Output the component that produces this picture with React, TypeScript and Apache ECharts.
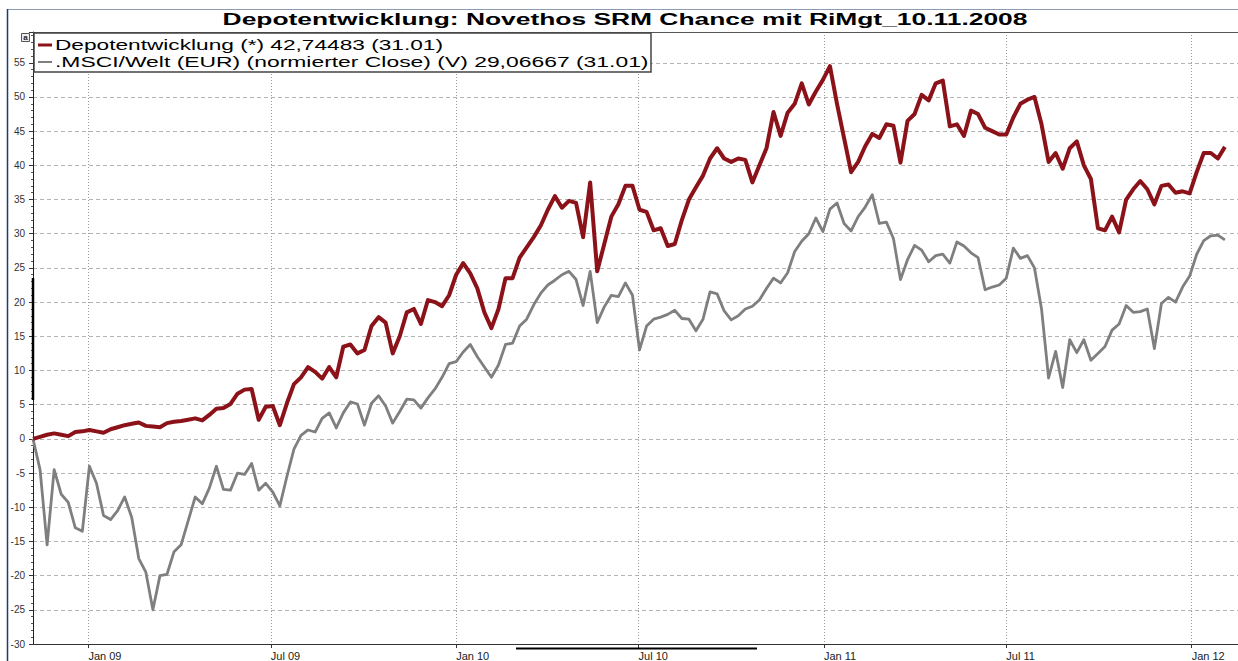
import React, { useEffect, useRef } from 'react';
import * as echarts from 'echarts';

const TITLE = 'Depotentwicklung: Novethos SRM Chance mit RiMgt_10.11.2008';
const DEPOT_NAME = 'Depotentwicklung (*) 42,74483 (31.01)';
const MSCI_NAME = '.MSCI/Welt (EUR) (normierter Close) (V) 29,06667 (31.01)';

// weekly observations starting 07.11.2008
const START_Y = 2008;
const START_M = 10;
const START_D = 7;
const STEP_DAYS = 7;

const depotValues = [
  0.0, 0.3, 0.6, 0.8, 0.6, 0.4, 1.0, 1.1, 1.3, 1.1,
  0.9, 1.4, 1.7, 2.0, 2.2, 2.4, 1.9, 1.8, 1.7, 2.3,
  2.5, 2.6, 2.8, 3.0, 2.7, 3.5, 4.4, 4.5, 5.1, 6.6,
  7.2, 7.3, 2.8, 4.7, 4.8, 2.0, 5.2, 8.0, 9.0, 10.5,
  9.8, 8.8, 10.5, 9.0, 13.5, 13.8, 12.5, 13.0, 16.5, 17.8,
  17.0, 12.5, 15.0, 18.5, 19.0, 16.8, 20.3, 20.0, 19.4, 21.0,
  24.0, 25.7, 24.2, 22.0, 18.5, 16.2, 19.0, 23.5, 23.5, 26.5,
  28.0, 29.5, 31.2, 33.5, 35.5, 33.8, 34.8, 34.5, 29.5, 37.5,
  24.5, 28.5, 32.5, 34.3, 37.0, 37.0, 33.5, 33.2, 30.5, 30.8,
  28.2, 28.5, 32.0, 35.0, 36.8, 38.5, 41.0, 42.5, 41.0, 40.5,
  41.0, 40.8, 37.5, 40.0, 42.5, 47.8, 44.3, 47.7, 49.0, 52.0,
  48.9, 50.8, 52.5, 54.5, 49.0, 44.0, 39.0, 40.5, 42.8, 44.6,
  44.0, 46.0, 45.8, 40.4, 46.5, 47.5, 50.3, 49.5, 52.0, 52.4,
  45.7, 46.0, 44.3, 48.0, 47.5, 45.5, 45.0, 44.5, 44.5, 47.0,
  49.0, 49.6, 50.0, 46.0, 40.5, 41.8, 39.5, 42.5, 43.5, 40.0,
  38.0, 30.8, 30.5, 32.5, 30.2, 35.0, 36.5, 37.7, 36.5, 34.3,
  37.0, 37.2, 36.0, 36.2, 35.9, 39.0, 41.8, 41.8, 41.0, 42.7,
];

const msciValues = [
  0.0, -4.5, -15.5, -4.5, -8.1, -9.3, -13.0, -13.5, -4.0, -6.5,
  -11.2, -11.8, -10.5, -8.5, -11.5, -17.5, -19.5, -25.0, -20.0, -19.8,
  -16.5, -15.5, -12.0, -8.5, -9.5, -7.2, -4.0, -7.4, -7.5, -5.0,
  -5.2, -3.6, -7.5, -6.5, -7.8, -9.8, -5.5, -1.5, 0.5, 1.3,
  1.0, 3.0, 3.8, 1.6, 3.8, 5.4, 5.1, 2.0, 5.2, 6.3,
  4.8, 2.3, 4.0, 5.8, 5.7, 4.5, 6.0, 7.3, 9.0, 11.0,
  11.3, 12.7, 13.8, 12.0, 10.5, 9.0, 10.8, 13.8, 14.0, 16.5,
  17.5, 19.6, 21.3, 22.5, 23.2, 24.0, 24.5, 23.3, 19.5, 24.5,
  17.0, 19.3, 21.0, 20.8, 22.8, 21.0, 13.0, 16.5, 17.5, 17.8,
  18.2, 18.8, 17.6, 17.5, 15.8, 17.5, 21.5, 21.2, 18.7, 17.4,
  18.0, 19.0, 19.4, 20.3, 22.0, 23.5, 22.8, 24.3, 27.4, 28.9,
  30.0, 32.3, 30.3, 33.6, 34.5, 31.5, 30.4, 32.5, 33.9, 35.7,
  31.5, 31.7, 29.3, 23.3, 26.2, 28.3, 27.6, 25.9, 26.8, 27.0,
  25.7, 28.8, 28.2, 27.2, 26.5, 21.8, 22.2, 22.5, 23.5, 27.9,
  26.4, 26.8, 25.0, 19.0, 8.9, 12.8, 7.5, 14.5, 12.6, 14.5,
  11.5, 12.5, 13.5, 15.9, 16.8, 19.5, 18.5, 18.6, 19.0, 13.2,
  19.8, 20.7, 20.0, 22.2, 23.8, 27.0, 29.0, 29.7, 29.8, 29.1,
];

const xTickDates: number[][] = [
  [2009, 0, 1], [2009, 6, 1], [2010, 0, 1], [2010, 6, 1],
  [2011, 0, 1], [2011, 6, 1], [2012, 0, 1],
];
const xTickLabels = ['Jan 09', 'Jul 09', 'Jan 10', 'Jul 10', 'Jan 11', 'Jul 11', 'Jan 12'];

const X_MIN: number[] = [2008, 10, 7];
const X_MAX: number[] = [2012, 1, 16];
const Y_MIN = -30;
const Y_MAX = 59.5;
const Y_STEP = 5;

const FONT = '"Liberation Sans", Arial, Helvetica, sans-serif';

const ts = (d: number[]) => new Date(d[0], d[1], d[2]).getTime();

export default function App() {
  const ref = useRef<HTMLDivElement>(null);

  useEffect(() => {
    if (!ref.current) return;
    const chart = echarts.init(ref.current, undefined, { renderer: 'svg' });

    const dateAt = (i: number) => new Date(START_Y, START_M, START_D + i * STEP_DAYS).getTime();
    const depotData = depotValues.map((v, i) => [dateAt(i), v]);
    const msciData = msciValues.map((v, i) => [dateAt(i), v]);
    const tickTs = xTickDates.map(ts);

    const option: any = {
      animation: false,
      backgroundColor: '#ffffff',
      grid: { left: 33, top: 32, width: 1205, height: 615, containLabel: false },
      xAxis: {
        type: 'value',
        min: ts(X_MIN),
        max: ts(X_MAX),
        axisLine: { onZero: false, lineStyle: { color: '#333', width: 1 } },
        axisTick: { show: true, customValues: tickTs, length: 4, lineStyle: { color: '#333' } },
        axisLabel: {
          customValues: tickTs,
          formatter: (v: number) => {
            const idx = tickTs.findIndex((t) => Math.abs(t - v) < 43200000);
            return idx >= 0 ? xTickLabels[idx] : '';
          },
          align: 'left',
          margin: 6,
          fontSize: 11,
          color: '#222',
          fontFamily: FONT,
        },
        splitLine: { show: true, lineStyle: { type: [1, 2], color: '#9a9a9a', width: 1 } },
      },
      yAxis: {
        type: 'value',
        min: Y_MIN,
        max: Y_MAX,
        interval: Y_STEP,
        axisLine: { show: true, lineStyle: { color: '#222', width: 1 } },
        axisTick: { show: true, length: 4, lineStyle: { color: '#333' } },
        minorTick: { show: true, splitNumber: 5, length: 2, lineStyle: { color: '#555' } },
        axisLabel: {
          fontSize: 10,
          color: '#333',
          margin: 8,
          fontFamily: FONT,
          formatter: (v: number) => (Math.abs(v % Y_STEP) < 1e-6 ? String(v) : ''),
        },
        splitLine: { show: true, lineStyle: { type: [4, 3], color: '#b4b4b4', width: 1 } },
      },
      series: [
        {
          name: MSCI_NAME,
          type: 'line',
          data: msciData,
          showSymbol: false,
          symbol: 'none',
          lineStyle: { color: '#7f7f7f', width: 2.8, join: 'round' },
          itemStyle: { color: '#7f7f7f' },
          z: 2,
        },
        {
          name: DEPOT_NAME,
          type: 'line',
          data: depotData,
          showSymbol: false,
          symbol: 'none',
          lineStyle: { color: '#8c1219', width: 4, join: 'round' },
          itemStyle: { color: '#8c1219' },
          z: 3,
        },
      ],
      graphic: [
        { type: 'line', silent: true, shape: { x1: 7, y1: 9.5, x2: 1238, y2: 9.5 }, style: { stroke: '#8a9bb3', lineWidth: 1 } },
        { type: 'line', silent: true, shape: { x1: 7.5, y1: 9, x2: 7.5, y2: 661 }, style: { stroke: '#1f3b6b', lineWidth: 1.5 } },
        { type: 'line', silent: true, z: 10, shape: { x1: 33, y1: 32.5, x2: 1238, y2: 32.5 }, style: { stroke: '#555', lineWidth: 1.2 } },
        { type: 'line', silent: true, z: 10, shape: { x1: 33, y1: 278, x2: 33, y2: 400 }, style: { stroke: '#000', lineWidth: 2.5 } },
        { type: 'line', silent: true, z: 10, shape: { x1: 516, y1: 648.5, x2: 757, y2: 648.5 }, style: { stroke: '#000', lineWidth: 2 } },
        { type: 'rect', silent: true, z: 10, shape: { x: 21.5, y: 33.5, width: 8, height: 8 }, style: { fill: '#eeeeee', stroke: '#555', lineWidth: 1 } },
        { type: 'text', silent: true, z: 11, x: 25.5, y: 37.5, style: { text: 'a', font: `bold 8px ${FONT}`, fill: '#222', align: 'center', verticalAlign: 'middle', textAlign: 'center', textVerticalAlign: 'middle' } },
        {
          type: 'text', silent: true, z: 10, x: 625, y: 20, scaleX: 1.65,
          style: { text: TITLE, font: `bold 16px ${FONT}`, fill: '#000', align: 'center', verticalAlign: 'middle', textAlign: 'center', textVerticalAlign: 'middle' },
        },
        { type: 'rect', silent: true, z: 10, shape: { x: 34, y: 33, width: 617, height: 39 }, style: { fill: '#ffffff', stroke: '#444', lineWidth: 1.5 } },
        { type: 'line', silent: true, z: 11, shape: { x1: 38, y1: 45, x2: 52, y2: 45 }, style: { stroke: '#8c1219', lineWidth: 3 } },
        { type: 'line', silent: true, z: 11, shape: { x1: 38, y1: 62, x2: 52, y2: 62 }, style: { stroke: '#7f7f7f', lineWidth: 2 } },
        {
          type: 'text', silent: true, z: 11, x: 55, y: 45, scaleX: 1.62,
          style: { text: DEPOT_NAME, font: `14px ${FONT}`, fill: '#000', align: 'left', verticalAlign: 'middle', textAlign: 'left', textVerticalAlign: 'middle' },
        },
        {
          type: 'text', silent: true, z: 11, x: 55, y: 62, scaleX: 1.635,
          style: { text: MSCI_NAME, font: `14px ${FONT}`, fill: '#000', align: 'left', verticalAlign: 'middle', textAlign: 'left', textVerticalAlign: 'middle' },
        },
      ],
    };

    chart.setOption(option);
    return () => chart.dispose();
  }, []);

  return (
    <div
      ref={ref}
      style={{ position: 'absolute', left: 0, top: 0, width: 1238, height: 661, background: '#fff' }}
    />
  );
}
